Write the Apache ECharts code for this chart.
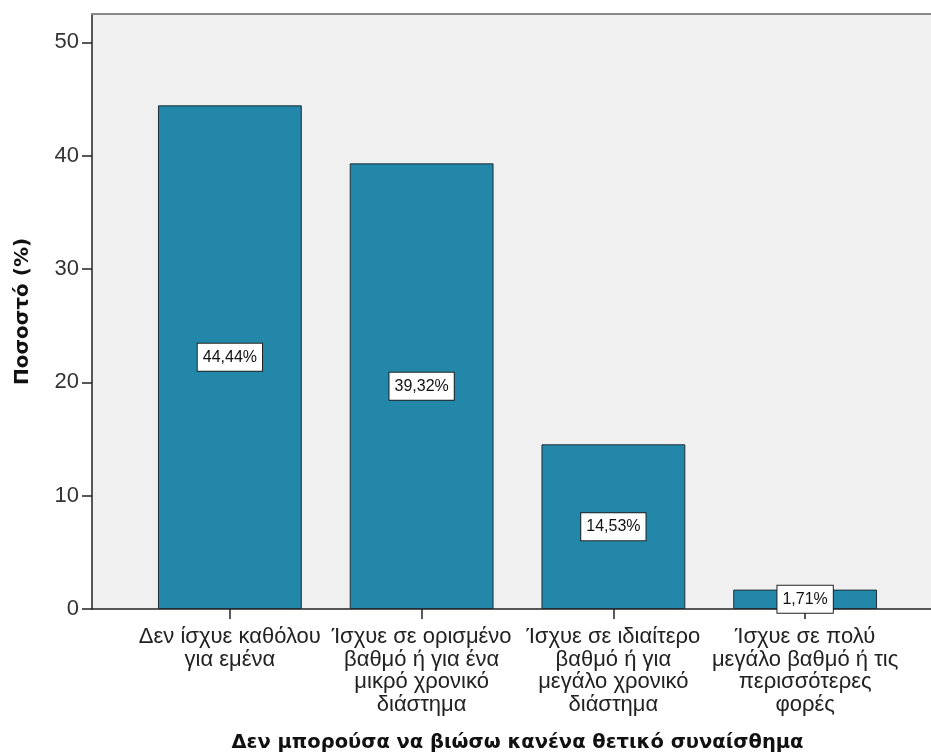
<!DOCTYPE html>
<html>
<head>
<meta charset="utf-8">
<script src="https://cdn.jsdelivr.net/npm/echarts@6/dist/echarts.min.js"></script>
<style>
  html, body { margin: 0; padding: 0; background: #fff; }
  #chart { width: 931px; height: 756px; }
</style>
</head>
<body>
<div id="chart"></div>
<script>
// answer categories (line breaks as on the axis)
var categories = [
  'Δεν ίσχυε καθόλου\nγια εμένα',
  'Ίσχυε σε ορισμένο\nβαθμό ή για ένα\nμικρό χρονικό\nδιάστημα',
  'Ίσχυε σε ιδιαίτερο\nβαθμό ή για\nμεγάλο χρονικό\nδιάστημα',
  'Ίσχυε σε πολύ\nμεγάλο βαθμό ή τις\nπερισσότερες\nφορές'
]
var percents = [44.44, 39.32, 14.53, 1.71]
var yTicks = [0, 10, 20, 30, 40, 50]

var axisTitle = 'Δεν μπορούσα να βιώσω κανένα θετικό συναίσθημα'
var yTitle = 'Ποσοστό (%)'

var chart = echarts.init(document.getElementById('chart'))

var plotTop = 14
var plotBottom = 147
var yMax = 52.5

chart.setOption({
  animation: false,
  backgroundColor: '#fff',
  textStyle: { fontFamily: 'Liberation Sans, Arial, sans-serif' },
  grid: [
    // bars
    { left: 134, right: 30, top: plotTop, bottom: plotBottom, outerBoundsMode: 'none' },
    // grey plot frame
    {
      left: 92, right: 0, top: plotTop, bottom: plotBottom, outerBoundsMode: 'none',
      show: true, backgroundColor: '#f0f0f0', borderWidth: 0, z: -1
    }
  ],
  xAxis: [
    {
      type: 'category',
      gridIndex: 0,
      data: categories,
      axisLine: { show: false },
      axisTick: { show: true, alignWithLabel: true, length: 10, lineStyle: { color: '#222', width: 1.5 } },
      axisLabel: {
        interval: 0,
        margin: 17,
        fontSize: 22,
        lineHeight: 22.5,
        color: '#222'
      },
      name: axisTitle,
      nameLocation: 'middle',
      nameGap: 124,
      nameTextStyle: {
        fontFamily: 'DejaVu Sans',
        fontWeight: 'bold',
        fontSize: 19.5,
        color: '#111'
      }
    },
    {
      type: 'value',
      gridIndex: 1,
      min: 0, max: 1,
      axisLine: { show: true, lineStyle: { color: '#222', width: 1.5 } },
      axisTick: { show: false },
      axisLabel: { show: false },
      splitLine: { show: false }
    },
    {
      type: 'value',
      gridIndex: 1,
      position: 'top',
      min: 0, max: 1,
      axisLine: { show: true, lineStyle: { color: '#888', width: 2 } },
      axisTick: { show: false },
      axisLabel: { show: false },
      splitLine: { show: false }
    }
  ],
  yAxis: [
    {
      type: 'value',
      gridIndex: 0,
      min: 0,
      max: yMax,
      interval: 10,
      offset: 42,
      axisLine: { show: true, lineStyle: { color: '#222', width: 1.5 } },
      axisTick: { show: true, length: 10, customValues: yTicks, lineStyle: { color: '#222', width: 1.5 } },
      axisLabel: { customValues: yTicks, margin: 13, fontSize: 22, color: '#333' },
      splitLine: { show: false },
      name: yTitle,
      nameLocation: 'middle',
      nameRotate: 90,
      nameGap: 59,
      nameTextStyle: {
        fontFamily: 'DejaVu Sans',
        fontWeight: 'bold',
        fontSize: 20,
        color: '#111'
      }
    },
    {
      type: 'value',
      gridIndex: 1,
      min: 0, max: 1,
      show: false
    }
  ],
  series: [
    {
      type: 'bar',
      xAxisIndex: 0,
      yAxisIndex: 0,
      data: percents,
      barCategoryGap: '25%',
      itemStyle: {
        color: '#2387a9',
        borderColor: '#1e2d36',
        borderWidth: 1
      },
      label: {
        show: true,
        position: 'inside',
        formatter: function (p) {
          return p.value.toFixed(2).replace('.', ',') + '%'
        },
        fontSize: 16,
        color: '#111',
        backgroundColor: '#fff',
        borderColor: '#222',
        borderWidth: 1,
        padding: [6, 5, 5, 5]
      }
    }
  ]
})
</script>
</body>
</html>
